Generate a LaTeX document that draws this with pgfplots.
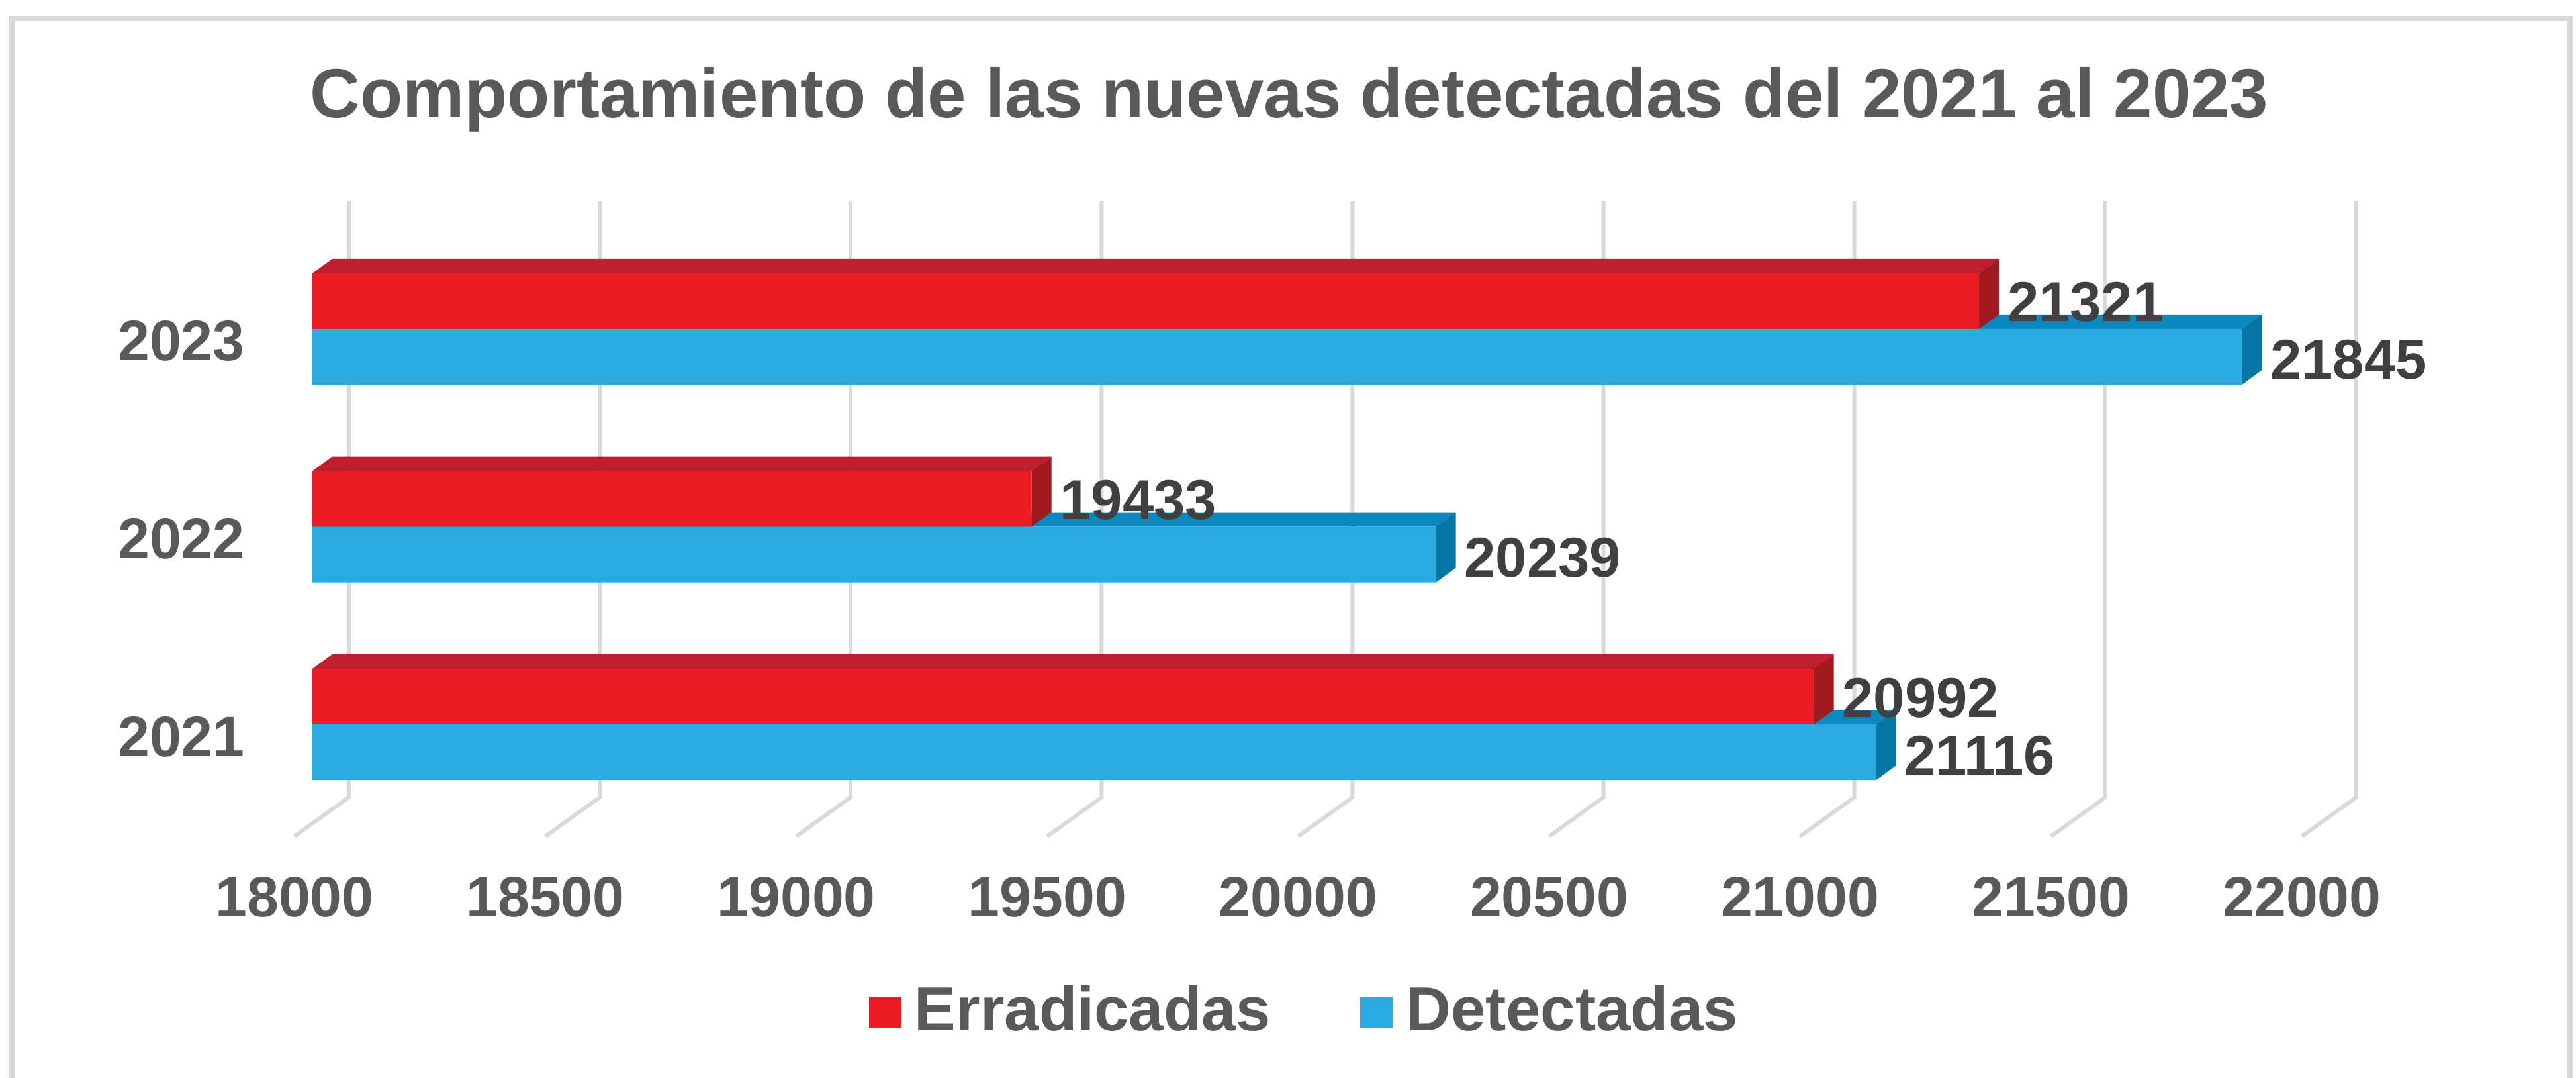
\documentclass[border=0pt]{standalone}
\usepackage{pgfplots}
\usepackage{pgfplotstable}
\pgfplotsset{compat=1.18}
\usepackage{fontspec}
\setmainfont{Liberation Sans}

\definecolor{txtgray}{HTML}{595959}
\definecolor{lblgray}{HTML}{404040}
\definecolor{gridgray}{HTML}{D9D9D9}
\definecolor{redfront}{HTML}{ED1C24}
\definecolor{redtop}{HTML}{BE1E2D}
\definecolor{redside}{HTML}{A0191F}
\definecolor{bluefront}{HTML}{29ABE2}
\definecolor{bluetop}{HTML}{0A88BF}
\definecolor{blueside}{HTML}{0575A5}

\pgfplotstableread{
k year err det
0 2021 20992 21116
1 2022 19433 20239
2 2023 21321 21845
}\datatable

% 3D faces of the bars (top face + right face), drawn at the bar end
\pgfdeclareplotmark{redfaces}{%
  \pgfpathmoveto{\pgfpoint{-\barlen pt}{8.4pt}}%
  \pgfpathlineto{\pgfpoint{0pt}{8.4pt}}%
  \pgfpathlineto{\pgfpoint{3pt}{10.6pt}}%
  \pgfpathlineto{\pgfpoint{-\barlen pt+3pt}{10.6pt}}%
  \pgfpathclose
  \pgfsetfillcolor{redtop}\pgfusepath{fill}%
  \pgfpathmoveto{\pgfpoint{0pt}{0pt}}%
  \pgfpathlineto{\pgfpoint{0pt}{8.4pt}}%
  \pgfpathlineto{\pgfpoint{3pt}{10.6pt}}%
  \pgfpathlineto{\pgfpoint{3pt}{2.2pt}}%
  \pgfpathclose
  \pgfsetfillcolor{redside}\pgfusepath{fill}%
}
\pgfdeclareplotmark{bluefaces}{%
  \pgfpathmoveto{\pgfpoint{-\barlen pt}{0pt}}%
  \pgfpathlineto{\pgfpoint{0pt}{0pt}}%
  \pgfpathlineto{\pgfpoint{3pt}{2.2pt}}%
  \pgfpathlineto{\pgfpoint{-\barlen pt+3pt}{2.2pt}}%
  \pgfpathclose
  \pgfsetfillcolor{bluetop}\pgfusepath{fill}%
  \pgfpathmoveto{\pgfpoint{0pt}{-8.4pt}}%
  \pgfpathlineto{\pgfpoint{0pt}{0pt}}%
  \pgfpathlineto{\pgfpoint{3pt}{2.2pt}}%
  \pgfpathlineto{\pgfpoint{3pt}{-6.2pt}}%
  \pgfpathclose
  \pgfsetfillcolor{blueside}\pgfusepath{fill}%
}

\begin{document}
\begin{tikzpicture}
\useasboundingbox (0pt,0pt) rectangle (389.2pt,-162.8pt);
\fill[white] (0pt,0pt) rectangle (389.2pt,-162.8pt);
\draw[gridgray, line width=0.8pt] (1.8pt,-2.8pt) rectangle (388.3pt,-175pt);
\begin{axis}[
  scale only axis, width=303.3pt, height=90pt,
  at={(47.2pt,-120.4pt)}, anchor=south west,
  xmin=18000, xmax=22000, ymin=-0.368, ymax=2.646,
  clip mode=individual,
  axis line style={draw=none}, tick style={draw=none}, major tick length=0pt,
  /pgf/number format/assume math mode=true,
  /pgf/number format/1000 sep={},
  xtick={18000,18500,19000,19500,20000,20500,21000,21500,22000},
  xticklabels={18000,18500,19000,19500,20000,20500,21000,21500,22000},
  xticklabel style={anchor=base, yshift=-18.1pt, xshift=-2.7pt,
    font=\fontsize{8.6}{10}\selectfont\bfseries, text=txtgray},
  ytick={0,1,2}, yticklabels={2021,2022,2023},
  yticklabel style={anchor=base, xshift=-19.8pt, yshift=-4.8pt,
    font=\fontsize{8.6}{10}\selectfont\bfseries, text=txtgray},
  title={Comportamiento de las nuevas detectadas del 2021 al 2023},
  every axis title shift=0pt,
  title style={at={(0.4867,1.1411)}, anchor=base,
    font=\fontsize{10.5}{12}\selectfont\bfseries, text=txtgray},
  legend columns=2,
  legend style={at={(0.4970,-0.3622)}, anchor=center, draw=none, fill=none,
    font=\fontsize{9.4}{11}\selectfont\bfseries, text=txtgray,
    /tikz/every even column/.append style={column sep=11.5pt}},
]
\pgfplotsinvokeforeach{18000,18500,19000,19500,20000,20500,21000,21500,22000}{
  \draw[gridgray, line width=0.6pt]
    ([xshift=5.5pt]axis cs:#1,2.646) -- ([xshift=5.5pt]axis cs:#1,-0.368)
    -- ([xshift=-2.7pt,yshift=-5.9pt]axis cs:#1,-0.368);
}
% 3D faces of the blue bars, with value labels
\addplot[only marks, mark=bluefaces, forget plot,
  visualization depends on={(\thisrow{det}-18000)*0.075825 \as \barlen},
  point meta=\thisrow{det},
  nodes near coords,
  every node near coord/.append style={anchor=base west, inner sep=0pt,
    xshift=4.1pt, yshift=-7.6pt,
    font=\fontsize{8.5}{10}\selectfont\bfseries, text=lblgray},
] table[x=det, y=k] {\datatable};
% 3D faces of the red bars, with value labels
\addplot[only marks, mark=redfaces, forget plot,
  visualization depends on={(\thisrow{err}-18000)*0.075825 \as \barlen},
  point meta=\thisrow{err},
  nodes near coords,
  every node near coord/.append style={anchor=base west, inner sep=0pt,
    xshift=4.1pt, yshift=1.1pt,
    font=\fontsize{8.5}{10}\selectfont\bfseries, text=lblgray},
] table[x=err, y=k] {\datatable};
% front faces
\addplot[xbar, bar width=8.4pt, bar shift=4.2pt, fill=redfront, draw=none,
  legend image code/.code={\fill[redfront] (0pt,-2.35pt) rectangle (4.9pt,2.35pt);}]
  table[x=err, y=k] {\datatable};
\addlegendentry{Erradicadas}
\addplot[xbar, bar width=8.4pt, bar shift=-4.2pt, fill=bluefront, draw=none,
  legend image code/.code={\fill[bluefront] (0pt,-2.35pt) rectangle (4.9pt,2.35pt);}]
  table[x=det, y=k] {\datatable};
\addlegendentry{Detectadas}
\end{axis}
\end{tikzpicture}
\end{document}
